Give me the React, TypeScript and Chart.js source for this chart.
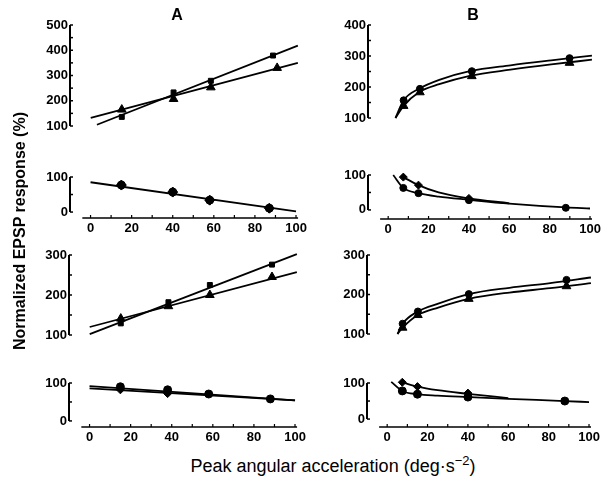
import React, { useEffect, useRef } from "react";
import { Chart, registerables } from "chart.js";
Chart.register(...registerables);

// ---------- shared tick labels ----------
const xTickValues = [0, 20, 40, 60, 80, 100];

// ---------- Panel A, upper ----------
const aUpSquareX = [15, 40, 58, 88];
const aUpSquareY = [136, 233, 279, 379];
const aUpSquareFitX = [3, 100];
const aUpSquareFitY = [105, 418];
const aUpTriX = [15, 40, 58, 90];
const aUpTriY = [165, 207, 253, 330];
const aUpTriFitX = [0, 100];
const aUpTriFitY = [132, 350];
const aUpTicks = [100, 200, 300, 400, 500];

// ---------- Panel A, lower ----------
const aLoCircX = [15, 40, 58, 87];
const aLoCircY = [77, 57, 34, 11];
const aLoFitX = [0, 100];
const aLoFitY = [85, 2];
const loTicks = [0, 100];

// ---------- Panel B, upper ----------
const bUpCircX = [7.5, 15.5, 41, 89];
const bUpCircY = [157, 194, 251, 293];
const bUpCurveX = [3.5, 7.5, 15, 25, 40, 60, 80, 100];
const bUpCurveY = [100, 157, 194, 223, 251, 270, 286, 301];
const bUpTriX = [7.5, 15.5, 41, 89];
const bUpTriY = [139, 183, 235, 278];
const bUpTri2X = [3.5, 7.5, 15, 25, 40, 60, 80, 100];
const bUpTri2Y = [100, 139, 183, 209, 236, 256, 273, 288];
const bUpTicks = [100, 200, 300, 400];

// ---------- Panel B, lower ----------
const bLoCircX = [7.5, 15, 40, 88];
const bLoCircY = [63, 48, 28, 6];
const bLoCurveX = [2.5, 7.5, 15, 25, 40, 60, 88, 100];
const bLoCurveY = [100, 63, 48, 38, 29, 18, 7, 4];
const bLoDiaX = [7.5, 15, 40];
const bLoDiaY = [94, 71, 33];
const bLoDiaCurveX = [7.5, 15, 25, 40, 60];
const bLoDiaCurveY = [94, 71, 50, 33, 19];

// ---------- Panel C (lower left), upper ----------
const cUpSquareX = [15, 38, 58, 88];
const cUpSquareY = [129, 182, 225, 276];
const cUpSquareFitX = [0, 100];
const cUpSquareFitY = [102, 302];
const cUpTriX = [15, 38, 58, 88];
const cUpTriY = [141, 172, 200, 245];
const cUpTriFitX = [0, 100];
const cUpTriFitY = [120, 257];
const cdUpTicks = [100, 200, 300];

// ---------- Panel C, lower ----------
const cLoCircX = [15, 38, 58, 88];
const cLoCircY = [90, 82, 71, 58];
const cLoDiaX = [15, 38];
const cLoDiaY = [82, 72];
const cLoFit1X = [0, 100];
const cLoFit1Y = [92, 54];
const cLoFit2X = [0, 100];
const cLoFit2Y = [86, 54];

// ---------- Panel D (lower right), upper ----------
const dUpCircX = [7.5, 15, 40, 88];
const dUpCircY = [126, 157, 201, 237];
const dUpCurveX = [5, 7.5, 15, 25, 40, 60, 80, 100];
const dUpCurveY = [100, 126, 157, 177, 201, 217, 229, 243];
const dUpTriX = [7.5, 15, 40, 88];
const dUpTriY = [116, 148, 189, 221];
const dUpTri2X = [5, 7.5, 15, 25, 40, 60, 80, 100];
const dUpTri2Y = [100, 116, 148, 167, 189, 205, 216, 229];

// ---------- Panel D, lower ----------
const dLoCircX = [7.5, 15, 40, 88];
const dLoCircY = [78, 69, 61, 50];
const dLoCurveX = [2, 7.5, 15, 25, 40, 60, 88, 100];
const dLoCurveY = [103, 78, 69, 65, 61, 56, 50, 47];
const dLoDiaX = [7.5, 15, 40];
const dLoDiaY = [102, 90, 72];
const dLoDiaCurveX = [7.5, 15, 25, 40, 60];
const dLoDiaCurveY = [102, 90, 80, 70, 58];

const FONT = "'Liberation Sans', Arial, sans-serif";

const pts = (xs: number[], ys: number[]) => xs.map((x, i) => ({ x, y: ys[i] }));

const marker = (xs: number[], ys: number[], style: string, r: number) => ({
  data: pts(xs, ys),
  showLine: false,
  pointStyle: style,
  pointRadius: r,
  pointHoverRadius: r,
  backgroundColor: "#000",
  borderColor: "#000",
  borderWidth: 1,
  clip: false,
});

const line = (xs: number[], ys: number[], smooth = false) => ({
  data: pts(xs, ys),
  showLine: true,
  pointRadius: 0,
  pointHoverRadius: 0,
  borderColor: "#000",
  borderWidth: 1.8,
  fill: false,
  tension: smooth ? 0.4 : 0,
  cubicInterpolationMode: smooth ? "monotone" : "default",
  clip: false,
});

type Sub = {
  key: string;
  left: number;
  right: number;
  top: number;
  bottom: number;
  yMin: number;
  yMax: number;
  axisFrom: number;
  yTicks: number[];
  showX: boolean;
  datasets: any[];
};

const LEFT_A = 70, RIGHT_A = 302, LEFT_B = 368, RIGHT_B = 596;

const subs: Sub[] = [
  {
    key: "aUp", left: LEFT_A, right: RIGHT_A, top: 25, bottom: 148, yMin: 100, yMax: 500, axisFrom: 100,
    yTicks: aUpTicks, showX: false,
    datasets: [
      line(aUpSquareFitX, aUpSquareFitY),
      line(aUpTriFitX, aUpTriFitY),
      marker(aUpSquareX, aUpSquareY, "rect", 3.5),
      marker(aUpTriX, aUpTriY, "triangle", 5),
    ],
  },
  {
    key: "aLo", left: LEFT_A, right: RIGHT_A, top: 177, bottom: 218, yMin: -17, yMax: 100, axisFrom: 0,
    yTicks: loTicks, showX: true,
    datasets: [
      line(aLoFitX, aLoFitY),
      marker(aLoCircX, aLoCircY, "circle", 4),
      marker(aLoCircX, aLoCircY, "rectRot", 5),
    ],
  },
  {
    key: "bUp", left: LEFT_B, right: RIGHT_B, top: 25, bottom: 140, yMin: 100, yMax: 400, axisFrom: 100,
    yTicks: bUpTicks, showX: false,
    datasets: [
      line(bUpCurveX, bUpCurveY, true),
      line(bUpTri2X, bUpTri2Y, true),
      marker(bUpCircX, bUpCircY, "circle", 3.5),
      marker(bUpTriX, bUpTriY, "triangle", 5),
    ],
  },
  {
    key: "bLo", left: LEFT_B, right: RIGHT_B, top: 175, bottom: 219, yMin: -26, yMax: 100, axisFrom: 0,
    yTicks: loTicks, showX: true,
    datasets: [
      line(bLoCurveX, bLoCurveY, true),
      line(bLoDiaCurveX, bLoDiaCurveY, true),
      marker(bLoCircX, bLoCircY, "circle", 3.5),
      marker(bLoDiaX, bLoDiaY, "rectRot", 4),
    ],
  },
  {
    key: "cUp", left: LEFT_A - 1, right: RIGHT_A - 1, top: 255, bottom: 357, yMin: 100, yMax: 300, axisFrom: 100,
    yTicks: cdUpTicks, showX: false,
    datasets: [
      line(cUpSquareFitX, cUpSquareFitY),
      line(cUpTriFitX, cUpTriFitY),
      marker(cUpSquareX, cUpSquareY, "rect", 3.5),
      marker(cUpTriX, cUpTriY, "triangle", 5),
    ],
  },
  {
    key: "cLo", left: LEFT_A - 1, right: RIGHT_A - 1, top: 383, bottom: 427, yMin: -16, yMax: 100, axisFrom: 0,
    yTicks: loTicks, showX: true,
    datasets: [
      line(cLoFit1X, cLoFit1Y),
      line(cLoFit2X, cLoFit2Y),
      marker(cLoCircX, cLoCircY, "circle", 4),
      marker(cLoDiaX, cLoDiaY, "rectRot", 4),
    ],
  },
  {
    key: "dUp", left: LEFT_B - 1, right: RIGHT_B - 1, top: 255, bottom: 356, yMin: 100, yMax: 300, axisFrom: 100,
    yTicks: cdUpTicks, showX: false,
    datasets: [
      line(dUpCurveX, dUpCurveY, true),
      line(dUpTri2X, dUpTri2Y, true),
      marker(dUpCircX, dUpCircY, "circle", 3.5),
      marker(dUpTriX, dUpTriY, "triangle", 5),
    ],
  },
  {
    key: "dLo", left: LEFT_B - 1, right: RIGHT_B - 1, top: 383, bottom: 427, yMin: -22, yMax: 100, axisFrom: 0,
    yTicks: loTicks, showX: true,
    datasets: [
      line(dLoCurveX, dLoCurveY, true),
      line(dLoDiaCurveX, dLoDiaCurveY, true),
      marker(dLoCircX, dLoCircY, "circle", 4),
      marker(dLoDiaX, dLoDiaY, "rectRot", 4),
    ],
  },
];

const YW = 42, PT = 10, PR = 8, XH = 22, PB = 6;

const axisPlugin = (sub: Sub) => ({
  id: "axes-" + sub.key,
  afterDraw(chart: any) {
    const { ctx, chartArea, scales } = chart;
    const y = scales.y, x = scales.x;
    ctx.save();
    ctx.strokeStyle = "#000";
    ctx.lineWidth = 2;
    const xa = chartArea.left;
    ctx.beginPath();
    ctx.moveTo(xa, y.getPixelForValue(sub.axisFrom));
    ctx.lineTo(xa, y.getPixelForValue(sub.yMax));
    ctx.stroke();
    ctx.lineWidth = 1.5;
    for (let v = sub.axisFrom; v <= sub.yMax; v += 50) {
      const py = y.getPixelForValue(v);
      ctx.beginPath();
      ctx.moveTo(xa, py);
      ctx.lineTo(xa + 3, py);
      ctx.stroke();
    }
    if (sub.showX) {
      const py = chartArea.bottom;
      ctx.lineWidth = 1.6;
      ctx.beginPath();
      ctx.moveTo(x.getPixelForValue(-4), py);
      ctx.lineTo(x.getPixelForValue(101), py);
      ctx.stroke();
      ctx.lineWidth = 1.2;
      for (let v = 0; v <= 100; v += 10) {
        const px = x.getPixelForValue(v);
        ctx.beginPath();
        ctx.moveTo(px, py);
        ctx.lineTo(px, py - 3);
        ctx.stroke();
      }
    }
    ctx.restore();
  },
});

function SubChart({ sub }: { sub: Sub }) {
  const ref = useRef<HTMLCanvasElement>(null);
  const w = YW + (sub.right - sub.left) + PR;
  const h = PT + (sub.bottom - sub.top) + (sub.showX ? XH : PB);
  useEffect(() => {
    const tickFont = { family: FONT, size: 13, weight: "bold" as const };
    const chart = new Chart(ref.current as HTMLCanvasElement, {
      type: "scatter",
      data: { datasets: sub.datasets as any },
      options: {
        responsive: false,
        maintainAspectRatio: false,
        animation: false,
        events: [],
        layout: { padding: { top: PT, right: PR, bottom: sub.showX ? 0 : PB, left: 0 } },
        plugins: { legend: { display: false }, tooltip: { enabled: false } },
        scales: {
          x: {
            type: "linear",
            min: -10,
            max: 102,
            display: sub.showX,
            grid: { display: false, drawTicks: false },
            border: { display: false },
            afterBuildTicks: (s: any) => {
              s.ticks = xTickValues.map((v) => ({ value: v }));
            },
            afterFit: (s: any) => {
              s.height = XH;
            },
            ticks: { font: tickFont, color: "#000", padding: 3, maxRotation: 0, autoSkip: false },
          },
          y: {
            type: "linear",
            min: sub.yMin,
            max: sub.yMax,
            grid: { display: false, drawTicks: false },
            border: { display: false },
            afterBuildTicks: (s: any) => {
              s.ticks = sub.yTicks.map((v) => ({ value: v }));
            },
            afterFit: (s: any) => {
              s.width = YW;
            },
            ticks: { font: tickFont, color: "#000", padding: 2, autoSkip: false },
          },
        },
      } as any,
      plugins: [axisPlugin(sub)],
    });
    return () => chart.destroy();
  }, []);
  return (
    <canvas
      ref={ref}
      width={w}
      height={h}
      style={{ position: "absolute", left: sub.left - YW, top: sub.top - PT, width: w, height: h }}
    />
  );
}

export default function App() {
  return (
    <div
      style={{
        position: "absolute",
        left: 0,
        top: 0,
        width: 602,
        height: 479,
        overflow: "hidden",
        background: "#fff",
        fontFamily: FONT,
        color: "#000",
      }}
    >
      {subs.map((s) => (
        <SubChart key={s.key} sub={s} />
      ))}
      <div style={{ position: "absolute", left: 177, top: 15, transform: "translate(-50%,-50%)", fontWeight: "bold", fontSize: 16 }}>A</div>
      <div style={{ position: "absolute", left: 473, top: 15, transform: "translate(-50%,-50%)", fontWeight: "bold", fontSize: 16 }}>B</div>
      <div
        style={{
          position: "absolute",
          left: 20,
          top: 231,
          transform: "translate(-50%,-50%) rotate(-90deg)",
          fontWeight: "bold",
          fontSize: 16,
          whiteSpace: "nowrap",
        }}
      >
        Normalized EPSP response (%)
      </div>
      <div
        style={{
          position: "absolute",
          left: 333,
          top: 465,
          transform: "translate(-50%,-50%)",
          fontSize: 18,
          whiteSpace: "nowrap",
        }}
      >
        Peak angular acceleration (deg·s<sup style={{ fontSize: 13 }}>−2</sup>)
      </div>
    </div>
  );
}
